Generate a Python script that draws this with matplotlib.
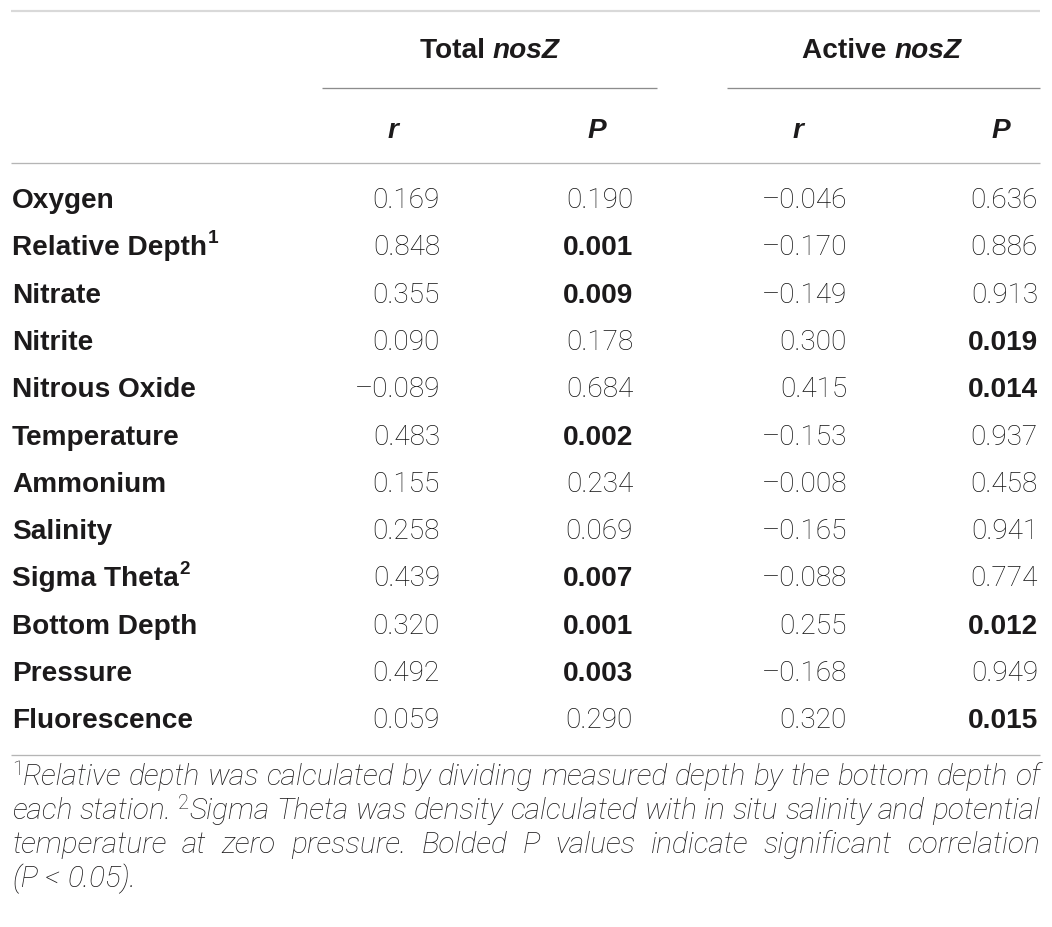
import matplotlib
matplotlib.use("Agg")
import matplotlib.pyplot as plt
from matplotlib import font_manager as fm

# ---------------- data ----------------
variables = ["Oxygen", "Relative Depth", "Nitrate", "Nitrite", "Nitrous Oxide",
             "Temperature", "Ammonium", "Salinity", "Sigma Theta", "Bottom Depth",
             "Pressure", "Fluorescence"]
label_sup = {"Relative Depth": "1", "Sigma Theta": "2"}
total_r = [0.169, 0.848, 0.355, 0.090, -0.089, 0.483, 0.155, 0.258, 0.439, 0.320, 0.492, 0.059]
total_p = [0.190, 0.001, 0.009, 0.178, 0.684, 0.002, 0.234, 0.069, 0.007, 0.001, 0.003, 0.290]
active_r = [-0.046, -0.170, -0.149, 0.300, 0.415, -0.153, -0.008, -0.165, -0.088, 0.255, -0.168, 0.320]
active_p = [0.636, 0.886, 0.913, 0.019, 0.014, 0.937, 0.458, 0.941, 0.774, 0.012, 0.949, 0.015]
groups = [("Total ", "nosZ"), ("Active ", "nosZ")]
sub_headers = ["r", "P", "r", "P"]
alpha = 0.05

footnote_lines = [
    [("1", "sup"), ("Relative depth was calculated by dividing measured depth by the bottom depth of", "it")],
    [("each station. ", "it"), ("2", "sup"), ("Sigma Theta was density calculated with in situ salinity and potential", "it")],
    [("temperature at zero pressure. Bolded P values indicate significant correlation", "it")],
    [("(P < 0.05).", "it")],
]

# ---------------- fonts ----------------
available = {f.name for f in fm.fontManager.ttflist}
def pick(*names):
    for n in names:
        if n in available:
            return n
    return "DejaVu Sans"

SANS = pick("Liberation Sans", "Arial", "DejaVu Sans")
LIGHT = pick("Roboto", "Open Sans", "Lato", "Liberation Sans")
NARROW = pick("Liberation Sans Narrow", "Roboto", "Liberation Sans")

TXT = "#1c1a1b"
W, H = 1052, 927
fig = plt.figure(figsize=(W / 100, H / 100), dpi=100)
ax = fig.add_axes([0, 0, 1, 1])
ax.set_xlim(0, W)
ax.set_ylim(H, 0)
ax.axis("off")
renderer = fig.canvas.get_renderer()

PX = 72 / 100  # px -> pt
FS = 28 * PX

def width_of(s, **kw):
    t = ax.text(0, 0, s, **kw)
    bb = t.get_window_extent(renderer=renderer)
    t.remove()
    return bb.width

def fmt(v):
    s = f"{abs(v):.3f}"
    return ("\u2013" + s) if v < 0 else s

# ---------------- rules ----------------
L, R = 11, 1040
ax.plot([L, R], [11, 11], color="#d9d9d9", lw=2.2 * PX, solid_capstyle="butt")
ax.plot([322, 657], [87.5, 87.5], color="#8c8c8c", lw=1.3 * PX, solid_capstyle="butt")
ax.plot([727, R], [87.5, 87.5], color="#8c8c8c", lw=1.3 * PX, solid_capstyle="butt")
ax.plot([L, R], [163, 163], color="#b5b5b5", lw=1.3 * PX, solid_capstyle="butt")
ax.plot([L, R], [755, 755], color="#b5b5b5", lw=1.3 * PX, solid_capstyle="butt")

# ---------------- headers ----------------
group_centers = [490, 882]
for (a, b), cx in zip(groups, group_centers):
    wa = width_of(a, fontsize=FS, family=SANS, fontweight="bold")
    wb = width_of(b, fontsize=FS, family=SANS, fontweight="bold", style="italic")
    x0 = cx - (wa + wb) / 2
    ax.text(x0, 58, a, fontsize=FS, family=SANS, fontweight="bold", color=TXT, va="baseline", ha="left")
    ax.text(x0 + wa, 58, b, fontsize=FS, family=SANS, fontweight="bold", style="italic",
            color=TXT, va="baseline", ha="left")

sub_x = [393, 597, 798, 1001]
for s, x in zip(sub_headers, sub_x):
    ax.text(x, 138, s, fontsize=FS, family=SANS, fontweight="bold", style="italic",
            color=TXT, va="baseline", ha="center")

# ---------------- body ----------------
col_right = [440, 633, 847, 1038]
y0, dy = 208, 47.3
for i, name in enumerate(variables):
    y = y0 + i * dy
    ax.text(12, y, name, fontsize=FS, family=SANS, fontweight="bold", color=TXT, va="baseline")
    if name in label_sup:
        wn = width_of(name, fontsize=FS, family=SANS, fontweight="bold")
        ax.text(12 + wn + 1, y - 12, label_sup[name], fontsize=FS * 0.68, family=SANS,
                fontweight="bold", color=TXT, va="baseline")
    vals = [total_r[i], total_p[i], active_r[i], active_p[i]]
    for j, (v, xr) in enumerate(zip(vals, col_right)):
        is_p = j in (1, 3)
        bold = is_p and v < alpha
        if bold:
            ax.text(xr, y, fmt(v), fontsize=FS, family=SANS, fontweight="bold", color=TXT,
                    va="baseline", ha="right")
        else:
            ax.text(xr, y, fmt(v), fontsize=FS, family=LIGHT, fontweight="light", color="#111111",
                    va="baseline", ha="right")

# ---------------- footnote (justified) ----------------
FN_L, FN_R = 12, 1040
def run_kw(kind, fs):
    if kind == "sup":
        return dict(fontsize=fs * 0.68, family=NARROW, fontweight="light")
    return dict(fontsize=fs, family=NARROW, fontweight="light", style="italic")

def words_of(line):
    words = []
    cur = []
    for text, kind in line:
        if kind == "sup":
            cur.append((text, kind))
            continue
        parts = text.split(" ")
        for k, p in enumerate(parts):
            if k > 0:
                if cur:
                    words.append(cur)
                cur = []
            if p:
                cur.append((p, kind))
    if cur:
        words.append(cur)
    return words

def line_natural_width(line, fs):
    ws = words_of(line)
    total = sum(width_of(t, **run_kw(k, fs)) for w in ws for t, k in w)
    sp = width_of("a a", **run_kw("it", fs)) - width_of("aa", **run_kw("it", fs))
    return total + sp * (len(ws) - 1)

fs_fn = 26 * PX
nat = line_natural_width(footnote_lines[0], fs_fn)
fs_fn = fs_fn * (FN_R - FN_L - 4) / nat

fn_y0, fn_dy = 785, 34
for li, line in enumerate(footnote_lines):
    y = fn_y0 + li * fn_dy
    ws = words_of(line)
    widths = [[width_of(t, **run_kw(k, fs_fn)) for t, k in w] for w in ws]
    total = sum(sum(w) for w in widths)
    last = li == len(footnote_lines) - 1
    if last or len(ws) < 2:
        gap = width_of("a a", **run_kw("it", fs_fn)) - width_of("aa", **run_kw("it", fs_fn))
    else:
        gap = (FN_R - FN_L - total) / (len(ws) - 1)
    x = FN_L
    for w, wl in zip(ws, widths):
        for (t, k), tw in zip(w, wl):
            yy = y - 10 if k == "sup" else y
            ax.text(x, yy, t, color=TXT, va="baseline", ha="left", **run_kw(k, fs_fn))
            x += tw
        x += gap

fig.savefig("out.png", dpi=100)
